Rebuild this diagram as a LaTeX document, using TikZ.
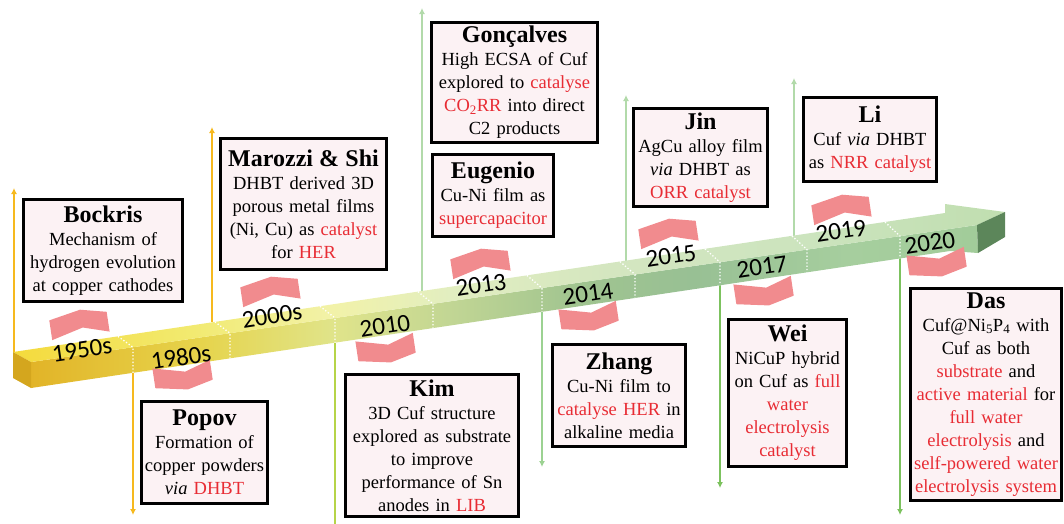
\documentclass[tikz,border=0pt]{standalone}
\usepackage{fontspec}
\setmainfont{Liberation Serif}
\newfontfamily\calib{Carlito}
\usetikzlibrary{arrows.meta}

\definecolor{boxpink}{RGB}{252,242,244}
\definecolor{chevpink}{RGB}{241,139,142}
\definecolor{hlred}{RGB}{232,44,52}
\definecolor{lorange}{RGB}{246,185,30}
\definecolor{lyelgreen}{RGB}{182,212,72}
\definecolor{lpalegreen}{RGB}{178,218,170}
\definecolor{lgreen}{RGB}{156,210,146}
\definecolor{ldeepgreen}{RGB}{124,194,94}
\definecolor{endgold}{RGB}{212,166,30}
\definecolor{tipgreen}{RGB}{92,134,90}
% band colours, top face
\definecolor{tA}{RGB}{244,218,60}
\definecolor{tB}{RGB}{242,234,112}
\definecolor{tC}{RGB}{242,242,168}
\definecolor{tD}{RGB}{226,238,192}
\definecolor{tE}{RGB}{212,230,192}
\definecolor{tF}{RGB}{204,228,190}
\definecolor{tG}{RGB}{192,222,176}
% band colours, front face
\definecolor{fA}{RGB}{226,180,40}
\definecolor{fB}{RGB}{230,212,76}
\definecolor{fC}{RGB}{224,228,138}
\definecolor{fD}{RGB}{194,214,148}
\definecolor{fE}{RGB}{160,196,144}
\definecolor{fF}{RGB}{152,192,148}
\definecolor{fG}{RGB}{166,206,158}
\definecolor{fH}{RGB}{162,204,154}

\pgfdeclarehorizontalshading{topshade}{100bp}{color(0bp)=(tA); color(25bp)=(tA); color(34bp)=(tB); color(41bp)=(tC); color(47bp)=(tD); color(55bp)=(tE); color(65bp)=(tF); color(75bp)=(tG); color(100bp)=(tG)}
\pgfdeclarehorizontalshading{frontshade}{100bp}{color(0bp)=(fA); color(25bp)=(fA); color(34bp)=(fB); color(41bp)=(fC); color(47bp)=(fD); color(54bp)=(fE); color(60bp)=(fF); color(68bp)=(fG); color(75bp)=(fH); color(100bp)=(fH)}

\newcommand{\hl}[1]{\textcolor{hlred}{#1}}
\newcommand{\boxtitle}{\fontsize{24}{26}\selectfont\bfseries}
\newcommand{\boxbody}{\fontsize{18.5}{23}\selectfont}
\newcommand{\yrfont}{\fontsize{25}{25}\selectfont\calib}

\begin{document}
\begin{tikzpicture}
    [%%%%%%%%%%%%%%%%%%%%%%%%%%%%%%
        x=1pt, y=-1pt,
        box/.style 2 args={rectangle, draw=black, line width=3.4pt, fill=boxpink, inner sep=0pt, align=center, font=\boxbody, text width=#1, minimum height=#2},
        yr/.style={font=\yrfont, rotate=8.5, inner sep=0pt},
        chev/.style={fill=chevpink},
        divider/.style={draw=white, line width=1.3pt, dotted},
        tl/.style={line width=2.2pt, -{Latex[length=6pt,width=6pt]}},
    ]%%%%%%%%%%%%%%%%%%%%%%%%%%%%%%
\useasboundingbox (0,0) rectangle (1064,523);

% vertical time lines
\foreach \n/\x/\ya/\yb/\c in {1950/14/352/188/lorange, 1980/133/373/515/lorange, 2000/212/322/127/lorange,
    2010/335/343/532/lyelgreen, 2013/422/291/8/lpalegreen, 2014/542/312/467/lgreen,
    2015/626/261/95/lpalegreen, 2017/720/285/488/ldeepgreen, 2019/794/236/78/lpalegreen,
    2020/900/256/515/ldeepgreen}
{
    \coordinate (b\n) at (\x,\ya);
    \coordinate (e\n) at (\x,\yb);
    \draw[tl, \c] (b\n) -- (e\n);
}

% the band
\shade[shading=frontshade] (31,362) -- (977,225) -- (978,253) -- (950,251) -- (31,388) -- cycle;
\shade[shading=topshade] (13,352) -- (945,213) -- (945,204) -- (1005,212) -- (977,225) -- (31,362) -- cycle;
\fill[tipgreen] (977,225) -- (1005,212) -- (1005,237) -- (978,253) -- cycle;
\fill[endgold] (13,352) -- (31,362) -- (31,388) -- (13,378) -- cycle;
\foreach \d in {133,230,335,433,542,635,720,807,900}
    \draw[divider] (\d-15,{352-0.149*(\d-28)}) -- (\d,{362-0.1448*(\d-31)}) -- (\d,{388-0.149*(\d-31)});

% chevrons
\foreach \cx/\cy/\s in {79/323/-1, 183/377/1, 270/290/-1, 386/350/1, 480/262/-1,
    589/318/1, 668/232/-1, 764/293/1, 841/208/-1, 937/264/1}
    \fill[chev, shift={(\cx,\cy)}, rotate=8.5, yscale=\s]
        (-29,-13) -- (3,-5) -- (29,-13) -- (29,7) -- (3,13) -- (-29,7) -- cycle;

% years
\foreach \lbl/\x/\y in {1950s/82/350, 1980s/181/357, 2000s/272/316, 2010/385/326, 2013/481/285,
    2014/588/294, 2015/671/256, 2017/762/267, 2019/841/231, 2020/930/243}
    \node[yr] (yr-\lbl) at (\x,\y) {\lbl};

% boxes
\node[box={159pt}{102pt}] (bockris) at (103,250.5) {{\boxtitle Bockris\par}Mechanism of\\hydrogen evolution\\at copper cathodes};
\node[box={126pt}{102pt}] (popov) at (204.5,452.5) {{\boxtitle Popov\par}Formation of\\copper powders\\\textit{via} \hl{DHBT}};
\node[box={166pt}{131pt}] (marozzi) at (303.5,204) {{\boxtitle Marozzi \& Shi\par}DHBT derived 3D\\porous metal films\\(Ni, Cu) as \hl{catalyst}\\for \hl{HER}};
\node[box={173pt}{142pt}] (kim) at (432,445.5) {{\boxtitle Kim\par}3D Cuf structure\\explored as substrate\\to improve\\performance of Sn\\anodes in \hl{LIB}};
\node[box={166pt}{120pt}] (goncalves) at (514.5,82.5) {{\boxtitle Gonçalves\par}High ECSA of Cuf\\explored to \hl{catalyse}\\\hl{CO\textsubscript{2}RR} into direct\\C2 products};
\node[box={121pt}{82pt}] (eugenio) at (493,195.5) {{\boxtitle Eugenio\par}Cu-Ni film as\\\hl{supercapacitor}};
\node[box={133pt}{102pt}] (zhang) at (619,395.5) {{\boxtitle Zhang\par}Cu-Ni film to\\\hl{catalyse HER} in\\alkaline media};
\node[box={134pt}{98pt}] (jin) at (700.5,157.5) {{\boxtitle Jin\par}AgCu alloy film\\\textit{via} DHBT as\\\hl{ORR catalyst}};
\node[box={133pt}{84pt}] (li) at (870,139.5) {{\boxtitle Li\par}Cuf \textit{via} DHBT\\as \hl{NRR catalyst}};
\node[box={118pt}{147pt}] (wei) at (787.5,393) {{\boxtitle Wei\par}NiCuP hybrid\\on Cuf as \hl{full}\\\hl{water}\\\hl{electrolysis}\\\hl{catalyst}};
\node[box={151pt}{212pt}] (das) at (986,394.5) {{\boxtitle Das\par}Cuf@Ni\textsubscript{5}P\textsubscript{4} with\\Cuf as both\\\hl{substrate} and\\\hl{active material} for\\\hl{full water}\\\hl{electrolysis} and\\\hl{self-powered water}\\\hl{electrolysis system}};

\end{tikzpicture}
\end{document}
